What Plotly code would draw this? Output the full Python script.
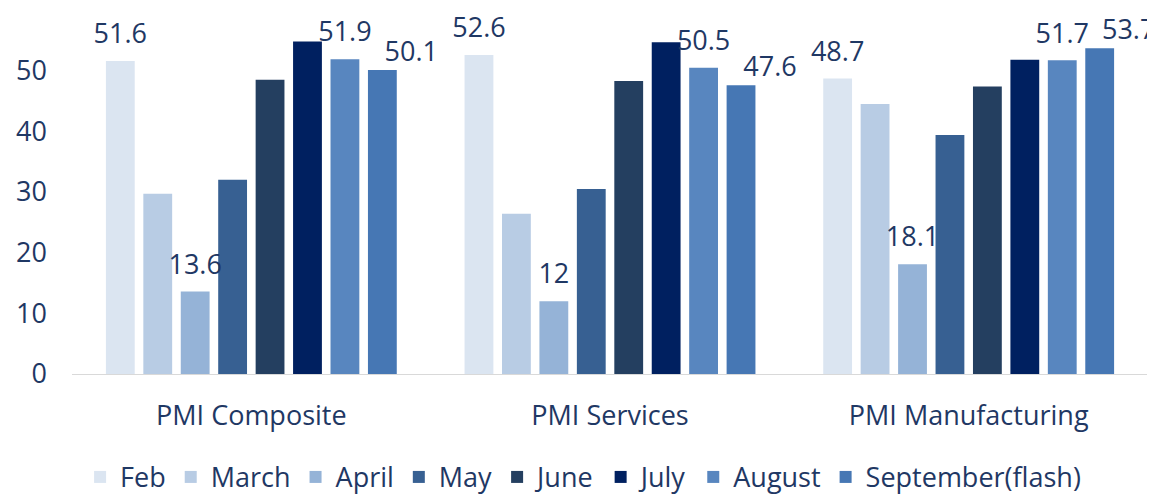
import plotly.graph_objects as go

categories = ["PMI Composite", "PMI Services", "PMI Manufacturing"]
months = ["Feb", "March", "April", "May", "June", "July", "August", "September(flash)"]
feb = [51.6, 52.6, 48.7]
march = [29.7, 26.4, 44.5]
april = [13.6, 12.0, 18.1]
may = [32.0, 30.5, 39.4]
june = [48.5, 48.3, 47.4]
july = [54.8, 54.7, 51.8]
august = [51.9, 50.5, 51.7]
september = [50.1, 47.6, 53.7]
series = [feb, march, april, may, june, july, august, september]
labelled = {"Feb", "April", "August", "September(flash)"}
label_pos = {"September(flash)": "top right"}
label_pad = {"September(flash)": 2}
colors = ["#dbe5f1", "#b8cce4", "#95b3d7", "#376092", "#243f60", "#002060", "#5886bf", "#4677b4"]

font_color = "#1f3864"
fam = "Open Sans, Noto Sans, sans-serif"
fs = 27
gap = 0.165

fig = go.Figure()
for i, (name, vals, col) in enumerate(zip(months, series, colors)):
    fig.add_trace(go.Bar(
        name=name, x=categories, y=vals, marker_color=col,
        marker_line_width=0, offsetgroup=str(i),
    ))
for i, (name, vals) in enumerate(zip(months, series)):
    txt = [f"{v:g}" for v in vals] if name in labelled else [""] * len(vals)
    fig.add_trace(go.Scatter(
        x=categories, y=vals, mode="markers+text", text=txt,
        textposition=label_pos.get(name, "top center"), offsetgroup=str(i),
        showlegend=False, marker=dict(size=label_pad.get(name, 16), opacity=0),
        cliponaxis=False, hoverinfo="skip",
        textfont=dict(size=fs, color=font_color, family=fam),
    ))

fig.update_layout(
    width=1155, height=496,
    barmode="group", bargap=gap, bargroupgap=0.23,
    scattermode="group", scattergap=gap,
    plot_bgcolor="white", paper_bgcolor="white",
    margin=dict(l=64, r=15, t=2, b=128),
    font=dict(family=fam, color=font_color, size=fs),
    legend=dict(orientation="h", x=0.475, xanchor="center", y=-0.284, yanchor="middle",
                font=dict(size=fs, color=font_color), itemwidth=30, tracegroupgap=0),
)
fig.update_yaxes(range=[0, 60], tickvals=[0, 10, 20, 30, 40, 50], showgrid=False,
                 zeroline=False, showline=False, ticks="", ticklabelstandoff=24,
                 tickfont=dict(size=fs, color=font_color))
fig.update_xaxes(showline=True, linecolor="#d9d9d9", linewidth=1, ticks="",
                 ticklabelstandoff=18, tickfont=dict(size=fs, color=font_color))
fig.write_html("out.html")
